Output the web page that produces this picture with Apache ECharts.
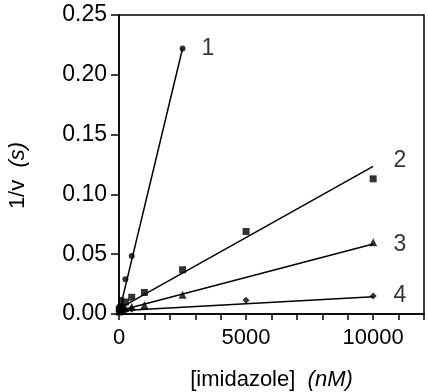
<!DOCTYPE html>
<html>
<head>
<meta charset="utf-8">
<script src="https://cdn.jsdelivr.net/npm/echarts@6/dist/echarts.min.js"></script>
<style>
  html, body { margin: 0; padding: 0; background: #fff; }
  #chart { width: 428px; height: 392px; }
</style>
</head>
<body>
<div id="chart"></div>
<script>
// measured points, [imidazole] (nM) vs 1/v (s)
const conc1 = [10, 25, 50, 100, 250, 500, 2500];
const inv1 = [0.003, 0.004, 0.007, 0.012, 0.029, 0.0485, 0.222];

const conc2 = [10, 50, 100, 250, 500, 1000, 2500, 5000, 10000];
const inv2 = [0.004, 0.005, 0.006, 0.010, 0.014, 0.018, 0.037, 0.069, 0.113];

const conc3 = [10, 50, 100, 250, 500, 1000, 2500, 10000];
const inv3 = [0.002, 0.003, 0.004, 0.005, 0.006, 0.0075, 0.016, 0.060];

const conc4 = [10, 50, 100, 250, 500, 5000, 10000];
const inv4 = [0.002, 0.002, 0.003, 0.003, 0.004, 0.0115, 0.015];

// fitted lines (end points)
const fit1 = [[0, 0.001], [2500, 0.222]];
const fit2 = [[0, 0.0045], [10000, 0.1235]];
const fit3 = [[0, 0.0027], [10000, 0.0585]];
const fit4 = [[0, 0.0028], [10000, 0.0145]];

// curve numbers
const curveNames = ['1', '2', '3', '4'];
const curveLabelX = [3500, 11050, 11050, 11050];
const curveLabelY = [0.222, 0.128, 0.058, 0.015];

const FONT = 'Liberation Sans';
const zip = (xs, ys) => xs.map((x, i) => [x, ys[i]]);

const pointSeries = (data, symbol, size) => ({
    type: 'scatter',
    data: data,
    symbol: symbol,
    symbolSize: size,
    itemStyle: { color: '#000' },
    z: 3
});
const fitSeries = data => ({
    type: 'line',
    data: data,
    showSymbol: false,
    lineStyle: { color: '#000', width: 1.5 },
    z: 2
});

const chart = echarts.init(document.getElementById('chart'));
chart.setOption({
    animation: false,
    grid: {
        left: 119, right: 4, top: 15, bottom: 78,
        outerBoundsMode: 'none',
        containLabel: false,
        show: true,
        borderColor: '#000',
        borderWidth: 1.5
    },
    xAxis: {
        type: 'value',
        min: 0, max: 12000, interval: 1000,
        name: '[imidazole]  {i|(nM)}',
        nameLocation: 'middle',
        nameGap: 55,
        nameTextStyle: {
            fontFamily: FONT, fontSize: 22, color: '#000',
            rich: { i: { fontFamily: FONT, fontSize: 22, fontStyle: 'italic', color: '#000' } }
        },
        axisLine: { lineStyle: { color: '#000', width: 1.5 } },
        axisTick: { length: 6, lineStyle: { color: '#000', width: 1.5 } },
        axisLabel: {
            margin: 13,
            fontFamily: FONT, fontSize: 22, color: '#000',
            formatter: v => (v % 5000 === 0 ? String(v) : '')
        },
        splitLine: { show: false }
    },
    yAxis: {
        type: 'value',
        min: 0, max: 0.25, interval: 0.05,
        name: '1/v  {i|(s)}',
        nameLocation: 'middle',
        nameGap: 90,
        nameTextStyle: {
            fontFamily: FONT, fontSize: 22, color: '#000',
            padding: [0, 22, 0, 0],
            rich: { i: { fontFamily: FONT, fontSize: 22, fontStyle: 'italic', color: '#000' } }
        },
        axisLine: { lineStyle: { color: '#000', width: 1.5 } },
        axisTick: { length: 8, lineStyle: { color: '#000', width: 1.5 } },
        axisLabel: {
            margin: 12,
            fontFamily: FONT, fontSize: 23, color: '#000',
            formatter: v => v.toFixed(2)
        },
        splitLine: { show: false }
    },
    series: [
        fitSeries(fit1),
        fitSeries(fit2),
        fitSeries(fit3),
        fitSeries(fit4),
        pointSeries(zip(conc1, inv1), 'circle', 6),
        pointSeries(zip(conc2, inv2), 'rect', 7),
        pointSeries(zip(conc3, inv3), 'triangle', 8),
        pointSeries(zip(conc4, inv4), 'diamond', 7),
        {
            type: 'scatter',
            data: curveNames.map((n, i) => ({ value: [curveLabelX[i], curveLabelY[i]], name: n })),
            symbolSize: 0,
            label: {
                show: true,
                position: 'inside',
                formatter: p => p.name,
                fontFamily: FONT, fontSize: 23, color: '#000'
            },
            z: 4
        }
    ]
});
</script>
</body>
</html>
